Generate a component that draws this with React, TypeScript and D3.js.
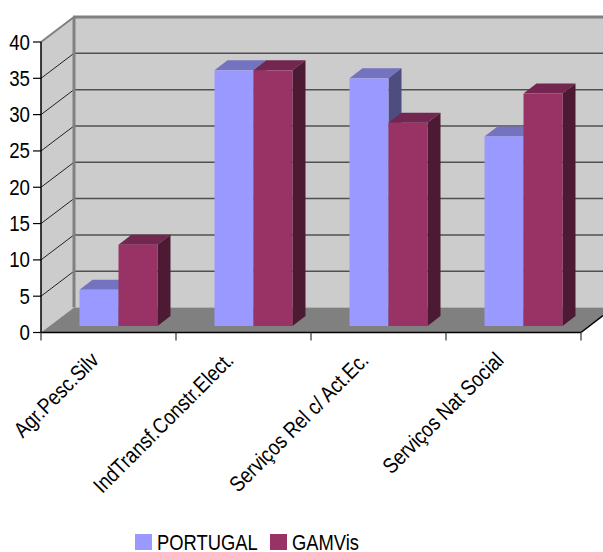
import React from "react";
import * as d3 from "d3";

const categories = ["Agr.Pesc.Silv", "IndTransf.Constr.Elect.", "Serviços Rel c/ Act.Ec.", "Serviços Nat Social"];
const seriesNames = ["PORTUGAL", "GAMVis"];
const portugal = [5, 35.2, 34.1, 26.1];
const gamvis = [11.2, 35.2, 28, 32];
const yTicks = [0, 5, 10, 15, 20, 25, 30, 35, 40];
const frontColors = ["#9999ff", "#993366"];
const topColors = ["#7373bf", "#732650"];
const sideColors = ["#4d4d80", "#4d1a33"];

const W = 603;
const H = 552;
const FONT = "'Liberation Sans', Arial, sans-serif";
const TEXT_SQUEEZE = 0.85;

// Oblique projection offsets of the chart box
const DEPTH_X = 33;
const DEPTH_Y = -25;
// The bars stand slightly inside the box and have a shallower depth
const BAR_FLOOR_Y = -6.5;
const BAR_DEPTH_X = 13;
const BAR_DEPTH_Y = -10;

const xLeft = 41;
const xRight = 581;
const yScale = d3.scaleLinear().domain([0, 40]).range([332.5, 42]);
const barLevel = (v: number) => yScale(v) + BAR_FLOOR_Y;
const bandX = d3.scaleBand<string>().domain(categories).range([xLeft, xRight]);
const barX = d3.scaleBand<string>().domain(seriesNames).range([38.5, 116.5]);

const poly = (pts: [number, number][]) => d3.line()(pts)! + "Z";

function Prism({ x, w, top, base, c }: { x: number; w: number; top: number; base: number; c: number }) {
  const dx = BAR_DEPTH_X;
  const dy = BAR_DEPTH_Y;
  return (
    <g>
      <path d={poly([[x, top], [x + dx, top + dy], [x + w + dx, top + dy], [x + w, top]])} fill={topColors[c]} />
      <path d={poly([[x + w, top], [x + w + dx, top + dy], [x + w + dx, base + dy], [x + w, base]])} fill={sideColors[c]} />
      <rect x={x} y={top} width={w} height={base - top} fill={frontColors[c]} />
    </g>
  );
}

export default function App() {
  const y0 = yScale(0);
  const y40 = yScale(40);
  const backL = xLeft + DEPTH_X;
  const backR = xRight + DEPTH_X;
  const series = [portugal, gamvis];
  const bw = barX.bandwidth();
  return (
    <svg width={W} height={H} style={{ position: "absolute", left: 0, top: 0, background: "#fff" }}>
      {/* Back wall, side wall and floor */}
      <rect x={backL} y={y40 + DEPTH_Y} width={backR - backL} height={y0 - y40} fill="#cccccc" />
      <path d={poly([[xLeft, y40], [backL, y40 + DEPTH_Y], [backL, y0 + DEPTH_Y], [xLeft, y0]])} fill="#cccccc" />
      <path d={poly([[xLeft, y0], [backL, y0 + DEPTH_Y], [backR, y0 + DEPTH_Y], [xRight, y0]])} fill="#808080" />

      {/* Gridlines on both walls */}
      {yTicks.slice(1, -1).map((t) => (
        <g key={t} fill="none">
          <line x1={xLeft} x2={backL} y1={yScale(t)} y2={yScale(t) + DEPTH_Y} stroke="#222" strokeWidth={1} />
          <line x1={backL} x2={backR} y1={yScale(t) + DEPTH_Y} y2={yScale(t) + DEPTH_Y} stroke="#505050" strokeWidth={1.5} />
        </g>
      ))}

      {/* Wall outlines */}
      <line x1={backL} x2={backL} y1={y40 + DEPTH_Y} y2={y0 + DEPTH_Y} stroke="#808080" strokeWidth={3} />
      <line x1={backL - 1} x2={backR} y1={y40 + DEPTH_Y} y2={y40 + DEPTH_Y} stroke="#808080" strokeWidth={3} />
      <line x1={xLeft} x2={backL} y1={y40} y2={y40 + DEPTH_Y} stroke="#808080" strokeWidth={2} />

      {/* Bars */}
      {categories.map((cat, i) =>
        seriesNames.map((s, j) => (
          <Prism
            key={cat + s}
            x={bandX(cat)! + barX(s)!}
            w={bw}
            top={barLevel(series[j][i])}
            base={barLevel(0)}
            c={j}
          />
        ))
      )}

      {/* Axes */}
      <line x1={xLeft} x2={xLeft} y1={y40} y2={y0} stroke="#000" strokeWidth={1.5} />
      <line x1={xLeft} x2={xRight} y1={y0} y2={y0} stroke="#000" strokeWidth={1.5} />
      <line x1={xRight} x2={xRight + 22} y1={y0} y2={y0 - 17} stroke="#000" strokeWidth={1.5} />
      {yTicks.map((t) => (
        <g key={t}>
          <line x1={33} x2={xLeft} y1={yScale(t)} y2={yScale(t)} stroke="#000" strokeWidth={1.2} />
          <text
            transform={`translate(30,${yScale(t) + 7.5}) scale(${TEXT_SQUEEZE},1)`}
            textAnchor="end"
            fontFamily={FONT}
            fontSize={22}
            fill="#000"
          >
            {t}
          </text>
        </g>
      ))}
      {[...categories.map((c) => bandX(c)!), xRight].map((x) => (
        <line key={x} x1={x} x2={x} y1={y0} y2={y0 + 8} stroke="#333" strokeWidth={1.2} />
      ))}
      {categories.map((c) => (
        <text
          key={c}
          transform={`translate(${bandX(c)! + 59},${y0 + 29}) rotate(-45) scale(${TEXT_SQUEEZE},1)`}
          textAnchor="end"
          fontFamily={FONT}
          fontSize={21.8}
          fill="#000"
        >
          {c}
        </text>
      ))}

      {/* Legend */}
      {seriesNames.map((s, j) => {
        const x = [135, 270][j];
        return (
          <g key={s}>
            <rect x={x} y={534} width={17} height={16} fill={frontColors[j]} />
            <text
              transform={`translate(${x + 22},${550}) scale(${TEXT_SQUEEZE},1)`}
              fontFamily={FONT}
              fontSize={21.6}
              fill="#000"
            >
              {s}
            </text>
          </g>
        );
      })}
    </svg>
  );
}
